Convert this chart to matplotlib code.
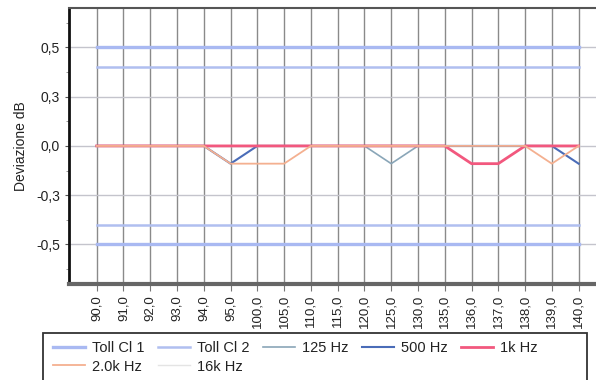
import matplotlib
matplotlib.use("Agg")
import matplotlib.pyplot as plt
from matplotlib.patches import Rectangle
from matplotlib.ticker import FixedLocator, FuncFormatter, MultipleLocator

plt.rcParams['font.family'] = ['Liberation Sans', 'DejaVu Sans']

levels = ["90,0", "91,0", "92,0", "93,0", "94,0", "95,0", "100,0", "105,0", "110,0",
          "115,0", "120,0", "125,0", "130,0", "135,0", "136,0", "137,0", "138,0",
          "139,0", "140,0"]

toll_cl1 = 0.5
toll_cl2 = 0.4

dev_125 = [0, 0, 0, 0, 0, 0, 0, 0, 0, 0, 0, -0.09, 0, 0, 0, 0, 0, 0, 0]
dev_500 = [0, 0, 0, 0, 0, -0.09, 0, 0, 0, 0, 0, 0, 0, 0, 0, 0, 0, 0, -0.09]
dev_1k = [0, 0, 0, 0, 0, 0, 0, 0, 0, 0, 0, 0, 0, 0, -0.09, -0.09, 0, 0, 0]
dev_2k = [0, 0, 0, 0, 0, -0.09, -0.09, -0.09, 0, 0, 0, 0, 0, 0, 0, 0, 0, -0.09, 0]
dev_16k = [0] * len(levels)

x = list(range(len(levels)))

W, H = 596, 380
fig = plt.figure(figsize=(W / 100, H / 100), dpi=100)
ax = fig.add_axes([0.116, 0.253, 0.884, 0.726])

tol_color = '#a9b9f2'
h_t1, = ax.plot(x, [toll_cl1] * len(x), color=tol_color, lw=2.4, zorder=3, label='Toll Cl 1')
ax.plot(x, [-toll_cl1] * len(x), color=tol_color, lw=2.4, zorder=3)
h_t2, = ax.plot(x, [toll_cl2] * len(x), color='#b0bff0', lw=1.8, zorder=3, label='Toll Cl 2')
ax.plot(x, [-toll_cl2] * len(x), color='#b0bff0', lw=1.8, zorder=3)

h_16k, = ax.plot(x, dev_16k, color='#e4e4e4', lw=1.0, zorder=3, label='16k Hz')
h_125, = ax.plot(x, dev_125, color='#8aa6b8', lw=1.2, zorder=4, label='125 Hz')
h_500, = ax.plot(x, dev_500, color='#4a6cb8', lw=1.5, zorder=5, label='500 Hz')
h_1k, = ax.plot(x, dev_1k, color='#f2587e', lw=2.0, zorder=6, label='1k Hz')
h_2k, = ax.plot(x, dev_2k, color='#f4b090', lw=1.3, zorder=7, label='2.0k Hz')


def comma_fmt(v, pos):
    s = f"{abs(v) + 1e-9:.1f}".replace('.', ',')
    return ('-' + s) if v < -1e-9 else s


ax.set_xlim(-1.03, 18.65)
ax.set_ylim(-0.7, 0.7)

ax.set_xticks(x)
ax.set_xticklabels(levels, rotation=90, fontsize=9.5, color='#222222')
ax.yaxis.set_major_locator(FixedLocator([-0.5, -0.25, 0.0, 0.25, 0.5]))
ax.yaxis.set_major_formatter(FuncFormatter(comma_fmt))
ax.yaxis.set_minor_locator(MultipleLocator(0.125))
ax.tick_params(axis='y', labelsize=10, length=3, color='#555555', labelcolor='#222222')
ax.tick_params(axis='y', which='minor', length=2, color='#888888')
ax.tick_params(axis='x', length=5, color='#777777', pad=3)

ax.grid(axis='x', color='#8a8a8a', lw=1.0, zorder=1)
ax.grid(axis='y', color='#c4c4cc', lw=1.0, zorder=1)
ax.set_axisbelow(True)

ax.spines['right'].set_visible(False)
ax.spines['left'].set_color('#111111')
ax.spines['left'].set_linewidth(2.0)
ax.spines['bottom'].set_color('#666666')
ax.spines['bottom'].set_linewidth(3.0)
ax.spines['top'].set_color('#555555')
ax.spines['top'].set_linewidth(1.5)

ax.set_ylabel('Deviazione dB', fontsize=10, labelpad=6, color='#222222')

# legend box below the plot
box_l, box_r, box_t, box_b = 43, 587, 333, 384
fig.patches.append(Rectangle((box_l / W, 1 - box_b / H), (box_r - box_l) / W,
                             (box_b - box_t) / H, transform=fig.transFigure,
                             facecolor='white', edgecolor='#333333', lw=1.3,
                             zorder=0))

handles = [h_t1, h_2k, h_t2, h_16k, h_125, h_500, h_1k]
labels = [h.get_label() for h in handles]
leg = fig.legend(handles, labels, ncol=5, loc='upper left',
                 bbox_to_anchor=(43 / W, 1 - 331 / H), frameon=False,
                 fontsize=10.5, handlelength=2.15, columnspacing=0.95,
                 handletextpad=0.5, borderpad=0.2, labelspacing=0.3)
for t in leg.get_texts():
    t.set_color('#222222')

fig.savefig('out.png', dpi=100)
